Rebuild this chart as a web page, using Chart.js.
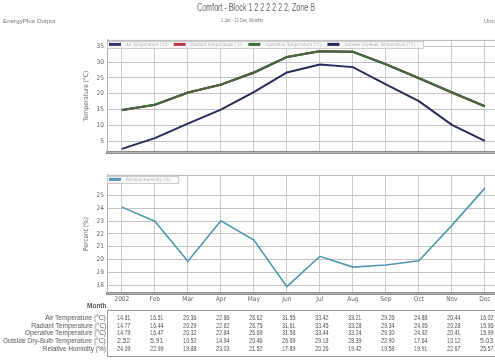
<!DOCTYPE html>
<html>
<head>
<meta charset="utf-8">
<script src="https://cdn.jsdelivr.net/npm/chart.js@4.4.0/dist/chart.umd.min.js"></script>
<style>
html,body{margin:0;padding:0}
body{width:495px;height:364px;overflow:hidden;position:relative;background:#fff;
  font-family:'Liberation Sans',Arial,sans-serif;color:#666}
.abs{position:absolute;white-space:nowrap;will-change:transform}
.plot{position:absolute}
#tbl{position:absolute;left:107px;top:310px;width:400px;height:47px;border:1px solid #9a9a9a;border-right:none;box-sizing:border-box}
.cell{position:absolute;font-size:7.5px;line-height:8px;white-space:nowrap;color:#555;will-change:transform}
.rowlab{position:absolute;right:389px;font-size:7.5px;line-height:8px;text-align:right;white-space:nowrap;color:#555;transform-origin:right center;will-change:transform}
</style>
</head>
<body>
<div class="abs fit" data-w="118" data-cx="256" style="top:2px;font-size:10px;color:#666">Comfort - Block 1 2 2 2 2 2 2, Zone B</div>
<div class="abs fit" data-w="42" data-cx="242" style="top:17px;font-size:6px;color:#777">1 Jan - 31 Dec, Monthly</div>
<div class="abs fit" data-w="52" data-lx="3" style="top:18px;font-size:6px;color:#777">EnergyPlus Output</div>
<div class="abs" style="left:484px;top:18px;font-size:6px;color:#777">Uncomfortable</div>

<div class="plot" style="left:80px;top:33px;width:425px;height:126px"><canvas id="tempChart"></canvas></div>
<div class="plot" style="left:80px;top:168px;width:425px;height:138px"><canvas id="rhChart"></canvas></div>

<div class="abs" style="right:389px;top:302px;font-size:6.5px;font-weight:bold;color:#555">Month</div>
<div id="tbl"></div>
<div id="rowLabels"></div>

<script>
// Monthly results, Jan..Dec
const months = ['Jan','Feb','Mar','Apr','May','Jun','Jul','Aug','Sep','Oct','Nov','Dec'];
const monthTicks = ['2002','Feb','Mar','Apr','May','Jun','Jul','Aug','Sep','Oct','Nov','Dec'];

const airTemp       = [14.81,16.51,20.36,22.86,26.62,31.55,33.42,33.21,29.26,24.88,20.44,16.02];
const radiantTemp   = [14.77,16.44,20.29,22.82,26.75,31.61,33.45,33.28,29.34,24.95,20.28,15.96];
const operativeTemp = [14.79,16.47,20.32,22.84,26.69,31.58,33.44,33.24,29.30,24.92,20.41,15.99];
const outsideTemp   = [2.52,5.91,10.52,14.94,20.46,26.69,29.18,28.39,22.90,17.64,10.12,5.03];
const relHumidity   = [24.09,22.99,19.88,23.03,21.52,17.89,20.26,19.42,19.58,19.91,22.67,25.57];

const tempTicks = [5,10,15,20,25,30,35];
const rhTicks = [18,19,20,21,22,23,24,25];

const FONT = "'Liberation Sans Narrow','DejaVu Sans Condensed','Liberation Sans',Arial,sans-serif";
const pts = arr => arr.map((v, i) => ({x: i, y: v}));

// legend strip drawn along the top edge of the plot area
const insideLegend = {
  id: 'insideLegend',
  afterDatasetsDraw(chart) {
    const {ctx, chartArea} = chart;
    const items = chart.data.datasets.map(ds => ({label: ds.label, color: ds.borderColor}));
    ctx.save();
    ctx.font = '4.5px ' + FONT;
    const sw = 12, gapA = 5, gapB = 6;
    const widths = items.map(it => sw + gapA + ctx.measureText(it.label).width + gapB);
    const total = widths.reduce((a, b) => a + b, 0) + 4;
    const top = chartArea.top + 1, h = 7;
    ctx.fillStyle = 'rgba(250,250,250,0.95)';
    ctx.fillRect(chartArea.left, top, total, h);
    ctx.strokeStyle = '#c8c8c8';
    ctx.lineWidth = 1;
    ctx.strokeRect(chartArea.left + 0.5, top + 0.5, total, h);
    let x = chartArea.left + 2;
    items.forEach((it, i) => {
      ctx.fillStyle = it.color;
      ctx.fillRect(x, top + 2, sw, 3);
      ctx.fillStyle = '#a8a8a8';
      ctx.textBaseline = 'middle';
      ctx.fillText(it.label, x + sw + gapA, top + h / 2 + 0.5);
      x += widths[i];
    });
    ctx.restore();
  }
};

// light frame round the plot area
const plotFrame = {
  id: 'plotFrame',
  beforeDatasetsDraw(chart) {
    const {ctx, chartArea: a} = chart;
    ctx.save();
    ctx.strokeStyle = '#b4b4b4';
    ctx.lineWidth = 1;
    ctx.strokeRect(a.left + 0.5, a.top + 0.5, a.right - a.left - 1, a.bottom - a.top);
    ctx.restore();
  }
};

function xScale(showLabels) {
  return {
    type: 'linear', min: -0.45, max: 11.61,
    afterFit: s => { s.height = showLabels ? 13 : 0; },
    afterBuildTicks: s => { s.ticks = months.map((m, i) => ({value: i})); },
    grid: {color: '#cdcdcd', drawTicks: false},
    border: {color: '#8c8c8c', width: 3},
    ticks: {
      display: showLabels, padding: 2, color: '#666', autoSkip: false, maxRotation: 0,
      font: {family: FONT, size: 6.5},
      callback: v => monthTicks[v]
    }
  };
}

function yScale(min, max, tickVals, title) {
  return {
    min, max,
    afterFit: s => { s.width = 27; },
    afterBuildTicks: s => { s.ticks = tickVals.map(v => ({value: v})); },
    grid: {color: '#c4c4c4', drawTicks: false},
    border: {color: '#aaaaaa', width: 1},
    ticks: {padding: 3, color: '#666', font: {family: FONT, size: 6.5}},
    title: {display: true, text: title, color: '#666', padding: {top: 2, bottom: 0},
            font: {family: FONT, size: 6.5}}
  };
}

const lineDefaults = {borderWidth: 2, pointRadius: 0, tension: 0, fill: false};

// operative temperature sits on top of the nearly identical air/radiant curves
new Chart(document.getElementById('tempChart'), {
  type: 'line',
  data: {
    datasets: [
      {...lineDefaults, order: 3, label: 'Air Temperature (°C)', data: pts(airTemp), borderColor: '#30346f'},
      {...lineDefaults, order: 2, label: 'Radiant Temperature (°C)', data: pts(radiantTemp), borderColor: '#c0394c'},
      {...lineDefaults, order: 0, label: 'Operative Temperature (°C)', data: pts(operativeTemp), borderColor: '#3c6d3c'},
      {...lineDefaults, order: 1, label: 'Outside Dry-Bulb Temperature (°C)', data: pts(outsideTemp), borderColor: '#272a5c'}
    ]
  },
  options: {
    responsive: true, maintainAspectRatio: false, animation: false,
    layout: {padding: 0},
    plugins: {legend: {display: false}, tooltip: {enabled: false}},
    scales: {x: xScale(false), y: yScale(1.5, 37, tempTicks, 'Temperature (°C)')}
  },
  plugins: [plotFrame, insideLegend]
});

new Chart(document.getElementById('rhChart'), {
  type: 'line',
  data: {
    datasets: [
      {...lineDefaults, borderWidth: 1.6, label: 'Relative Humidity (%)', data: pts(relHumidity), borderColor: '#4f97b5'}
    ]
  },
  options: {
    responsive: true, maintainAspectRatio: false, animation: false,
    layout: {padding: 0},
    plugins: {legend: {display: false}, tooltip: {enabled: false}},
    scales: {x: xScale(true), y: yScale(17.4, 26.6, rhTicks, 'Percent (%)')}
  },
  plugins: [plotFrame, insideLegend]
});

// data table under the charts, one row per series
const tableRows = [
  ['Air Temperature (°C)', airTemp],
  ['Radiant Temperature (°C)', radiantTemp],
  ['Operative Temperature (°C)', operativeTemp],
  ['Outside Dry-Bulb Temperature (°C)', outsideTemp],
  ['Relative Humidity (%)', relHumidity]
];
const tbl = document.getElementById('tbl');
const lab = document.getElementById('rowLabels');
const labelEls = [];
tableRows.forEach(([name, vals], r) => {
  const top = 314 + r * 7.7;
  const l = document.createElement('div');
  l.className = 'rowlab';
  l.style.top = top + 'px';
  l.textContent = name;
  lab.appendChild(l);
  labelEls.push(l);
  vals.forEach((v, i) => {
    const c = document.createElement('div');
    c.className = 'cell';
    c.textContent = v.toFixed(2);
    tbl.appendChild(c);
    // narrow the figures and centre them under each month
    const w = c.offsetWidth;
    const k = 13.5 / w;
    c.style.transformOrigin = 'left center';
    c.style.transform = 'scaleX(' + k + ')';
    c.style.left = (124 + i * 33 - 107 - 1 - 13.5 / 2) + 'px';
    c.style.top = (top - 310 - 1) + 'px';
  });
});
// row captions share one horizontal squeeze, set by the longest caption
const longest = Math.max(...labelEls.map(e => e.offsetWidth));
const kl = 103 / longest;
labelEls.forEach(e => { e.style.transform = 'scaleX(' + kl + ')'; });

// squeeze header texts to their widths
document.querySelectorAll('.fit').forEach(e => {
  const w = e.offsetWidth;
  const target = +e.dataset.w;
  const k = target / w;
  e.style.transformOrigin = 'left center';
  e.style.transform = 'scaleX(' + k + ')';
  if (e.dataset.cx) e.style.left = (+e.dataset.cx - target / 2) + 'px';
  else e.style.left = e.dataset.lx + 'px';
});
</script>
</body>
</html>
